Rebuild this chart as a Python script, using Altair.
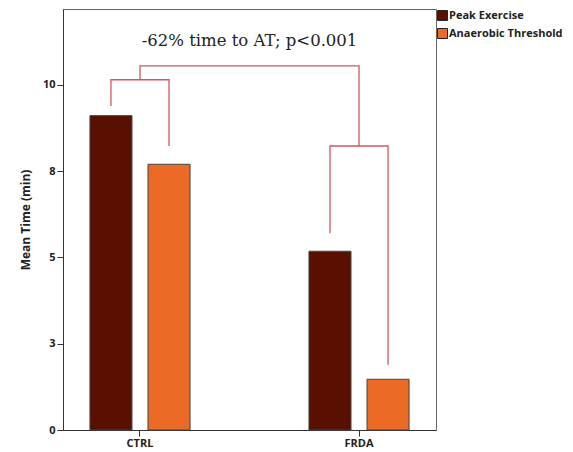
import altair as alt
import pandas as pd

# ---- data ----
groups = ["CTRL", "CTRL", "FRDA", "FRDA"]
series = ["Peak Exercise", "Anaerobic Threshold", "Peak Exercise", "Anaerobic Threshold"]
mean_time = [9.11, 7.70, 5.18, 1.47]

series_order = ["Peak Exercise", "Anaerobic Threshold"]
group_order = ["CTRL", "FRDA"]
bar_colors = ["#5A1000", "#EB6A26"]

# brackets within groups (points at bar centres)
pair_id = ["c", "c", "c", "c", "f", "f", "f", "f"]
pair_group = ["CTRL", "CTRL", "CTRL", "CTRL", "FRDA", "FRDA", "FRDA", "FRDA"]
pair_series = ["Peak Exercise", "Peak Exercise", "Anaerobic Threshold", "Anaerobic Threshold",
               "Peak Exercise", "Peak Exercise", "Anaerobic Threshold", "Anaerobic Threshold"]
pair_y = [9.39, 10.15, 10.15, 8.23, 5.70, 8.23, 8.23, 1.89]
pair_seq = [0, 1, 2, 3, 0, 1, 2, 3]

# bracket between groups (points at group centres)
top_group = ["CTRL", "CTRL", "FRDA", "FRDA"]
top_y = [10.15, 10.55, 10.55, 8.23]
top_seq = [0, 1, 2, 3]

annotation = "-62% time to AT; p<0.001"

bars_df = pd.DataFrame({"group": groups, "series": series, "value": mean_time})
pair_df = pd.DataFrame({"id": pair_id, "group": pair_group, "series": pair_series,
                        "value": pair_y, "seq": pair_seq})
top_df = pd.DataFrame({"group": top_group, "value": top_y, "seq": top_seq})

sans = "Open Sans"

x_enc = alt.X("group:N", sort=group_order,
              scale=alt.Scale(paddingInner=0.543, paddingOuter=0.123),
              axis=alt.Axis(title=None, labelAngle=0, labelFont=sans, labelFontWeight="bold",
                            labelFontSize=11, labelColor="#222", tickSize=6, tickColor="#333",
                            domainColor="#333", labelPadding=1, grid=False))
y_enc = alt.Y("value:Q", scale=alt.Scale(domain=[0, 12.2], nice=False, zero=True),
              axis=alt.Axis(title="Mean Time (min)", values=[0, 2.5, 5, 7.5, 10], format=".0f",
                            titleFont=sans, titleFontWeight="bold", titleFontSize=12,
                            titleColor="#222", titlePadding=10,
                            labelFont=sans, labelFontWeight="bold", labelFontSize=11,
                            labelColor="#222", tickSize=6, tickColor="#333",
                            domainColor="#333", labelPadding=2, grid=False))
xoff_enc = alt.XOffset("series:N", sort=series_order,
                       scale=alt.Scale(paddingInner=0.276, paddingOuter=0))

bars = alt.Chart(bars_df).mark_bar(stroke="#444", strokeWidth=1).encode(
    x=x_enc,
    y=y_enc,
    xOffset=xoff_enc,
    color=alt.Color("series:N", sort=series_order,
                    scale=alt.Scale(domain=series_order, range=bar_colors),
                    legend=alt.Legend(title=None, orient="none", legendX=374, legendY=1,
                                      symbolType="square", symbolSize=100,
                                      symbolStrokeColor="#222", symbolStrokeWidth=1,
                                      labelFont=sans, labelFontWeight="bold", labelFontSize=11,
                                      labelColor="#222", labelOffset=1, rowPadding=3,
                                      padding=0)),
)

pair_lines = alt.Chart(pair_df).mark_line(color="#D0585F", strokeWidth=1.3).encode(
    x=alt.X("group:N", sort=group_order),
    xOffset=alt.XOffset("series:N", sort=series_order),
    y="value:Q",
    detail="id:N",
    order="seq:Q",
)

top_line = alt.Chart(top_df).mark_line(color="#D0585F", strokeWidth=1.3).encode(
    x=alt.X("group:N", sort=group_order),
    y="value:Q",
    order="seq:Q",
)

chart = alt.layer(bars, pair_lines, top_line).properties(
    width=373,
    height=421,
    title=alt.TitleParams(annotation, font="DejaVu Serif", fontSize=16.5, fontWeight="normal",
                          color="#222", anchor="middle", orient="top", offset=-56,
                          baseline="bottom"),
    autosize=alt.AutoSizeParams(type="none"),
    padding={"left": 55, "top": 1, "right": 129, "bottom": 22},
).configure_view(stroke="#666", strokeWidth=1)

chart.save("out.html", embed_options={"renderer": "svg", "actions": False})
